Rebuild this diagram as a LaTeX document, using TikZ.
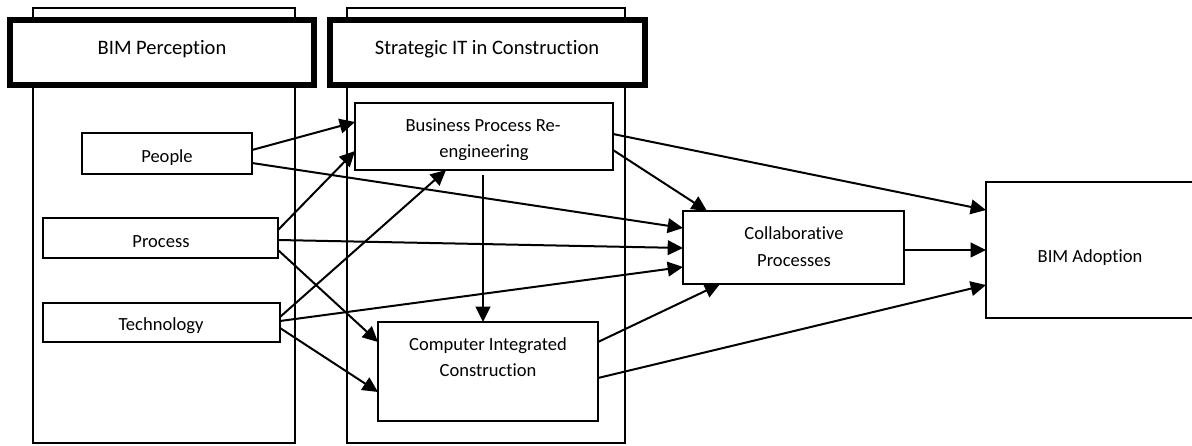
\documentclass[tikz,border=0pt]{standalone}
\usepackage{fontspec}
\setmainfont[Ligatures={NoCommon}]{Carlito}
\usetikzlibrary{arrows.meta}

\tikzset{
  px/.style={x=0.75pt,y=-0.75pt},
  thin line/.style={line width=1.5pt},
  column/.style={draw,thin line,rectangle,inner sep=0pt,outer sep=0pt,anchor=north west},
  header/.style={draw,line width=4.6pt,fill=white,rectangle,inner sep=0pt,outer sep=0pt,anchor=north west},
  box/.style={draw,thin line,fill=white,rectangle,inner sep=0pt,outer sep=0pt,anchor=north west},
  label/.style={inner sep=0pt,anchor=base,font=\fontsize{13.9}{19.5}\selectfont},
  hlabel/.style={inner sep=0pt,anchor=base,font=\fontsize{15.4}{19.5}\selectfont},
  link/.style={thin line,-{Triangle[length=11.5pt,width=11pt]}}
}

\begin{document}
\begin{tikzpicture}[px]
\useasboundingbox (0,0) rectangle (1192,446);

% the two grouping columns
\node[column,minimum width=262*0.75pt,minimum height=435*0.75pt] (colA) at (33,8) {};
\node[column,minimum width=278*0.75pt,minimum height=435*0.75pt] (colB) at (347,8) {};

% column headers
\node[header,minimum width=304*0.75pt,minimum height=65*0.75pt] (hdrA) at (10,20) {};
\node[header,minimum width=315*0.75pt,minimum height=65*0.75pt] (hdrB) at (330,20) {};
\node[hlabel] (hdrAtext) at (162,54) {BIM Perception};
\node[hlabel] (hdrBtext) at (487,54) {Strategic IT in Construction};

% factor boxes
\node[box,minimum width=170*0.75pt,minimum height=41*0.75pt] (people)  at (82,133) {};
\node[box,minimum width=235*0.75pt,minimum height=40*0.75pt] (process) at (43,218) {};
\node[box,minimum width=237*0.75pt,minimum height=39*0.75pt] (tech)    at (43,303) {};
\node[box,minimum width=258*0.75pt,minimum height=67*0.75pt] (bpr)     at (355,103) {};
\node[box,minimum width=220*0.75pt,minimum height=99*0.75pt] (cic)     at (378,322) {};
\node[box,minimum width=221*0.75pt,minimum height=73*0.75pt] (collab)  at (683,211) {};
\node[box,minimum width=220*0.75pt,minimum height=136*0.75pt] (adopt)  at (986,182) {};

\node[label] (peopletext)  at (167,162) {People};
\node[label] (processtext) at (161,247) {Process};
\node[label] (techtext)    at (161,330) {Technology};
\begin{scope}
  \clip (356,104) rectangle (612,159);
  \node[label] (bprtextA) at (483,131) {Business Process Re-};
  \node[label] (bprtextB) at (484,157) {engineering};
\end{scope}
\node[label] (cictextA)    at (488,350) {Computer Integrated};
\node[label] (cictextB)    at (488,376) {Construction};
\node[label] (collabtextA) at (794,239) {Collaborative};
\node[label] (collabtextB) at (794,266) {Processes};
\node[label] (adopttext)   at (1090,262) {BIM Adoption};

% relationships
\draw[link] (people.east |- 0,150) -- (bpr.west |- 0,122);
\draw[link] (people.east |- 0,163) -- (collab.west |- 0,228);
\draw[link] (process.east |- 0,230) -- (bpr.west |- 0,151);
\draw[link] (process.east |- 0,240) -- (collab.west |- 0,248);
\draw[link] (process.east |- 0,250) -- (cic.west |- 0,342);
\draw[link] (tech.east |- 0,317) -- (bpr.south -| 446,0);
\draw[link] (tech.east |- 0,321) -- (collab.west |- 0,267);
\draw[link] (tech.east |- 0,328) -- (cic.west |- 0,392);
\draw[link,shorten <=3.75pt] (bpr.south -| 483,0) -- (cic.north -| 483,0);
\draw[link] (bpr.east |- 0,134) -- (adopt.west |- 0,210);
\draw[link] (bpr.east |- 0,150) -- (collab.north -| 707,0);
\draw[link] (cic.east |- 0,342) -- (collab.south -| 720,0);
\draw[link] (cic.east |- 0,378) -- (adopt.west |- 0,285);
\draw[link] (collab.east |- 0,250) -- (adopt.west |- 0,250);
\end{tikzpicture}
\end{document}
